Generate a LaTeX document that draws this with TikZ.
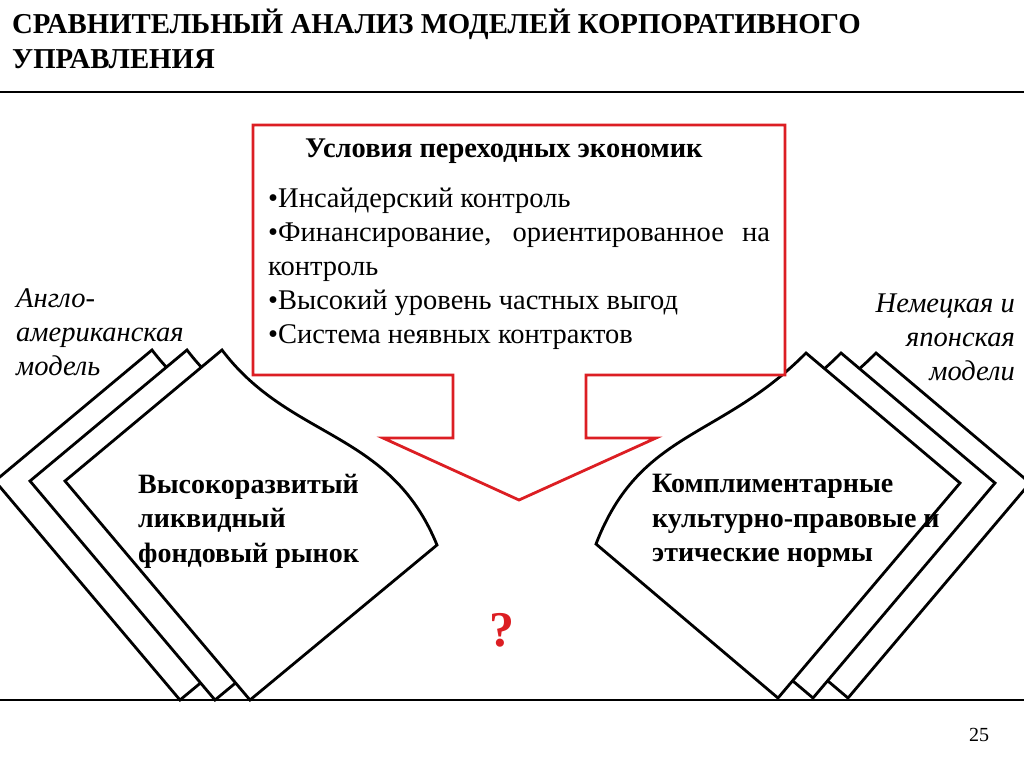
\documentclass[tikz,border=0pt]{standalone}
\usepackage{fontspec}
\setmainfont{Liberation Serif}
\definecolor{boxred}{RGB}{220,30,35}
\begin{document}
\begin{tikzpicture}[x=1pt, y=-1pt,
card/.style = {draw, line width = 2.8pt, fill = white, line join = miter},
lbl/.style = {font = \fontsize{28.5}{34}\selectfont\itshape, align = center, inner sep = 0pt},
cardtext/.style = {font = \fontsize{28}{34.5}\selectfont\bfseries, align = left, anchor = north west, inner sep = 0pt}]

\useasboundingbox (0,0) rectangle (1024,767);

% title and rules
\node[anchor = north west, inner sep = 0pt, align = left, font = \fontsize{28.8}{35}\selectfont\bfseries] (title) at (12,9) {СРАВНИТЕЛЬНЫЙ АНАЛИЗ МОДЕЛЕЙ КОРПОРАТИВНОГО\\УПРАВЛЕНИЯ};
\draw[line width = 1.2pt] (0,92) -- (1024,92);
\draw[line width = 1.2pt] (0,700) -- (1024,700);
\node[font = \fontsize{20}{24}\selectfont] (page) at (979,735) {25};

% left cards
\foreach \dx in {-70,-35,0} {
  \draw[card, xshift = \dx] (222,350) .. controls (290,440) and (390,430) .. (437,545)
    -- (250,700) -- (65,481) -- cycle;
}
% right cards
\foreach \dx in {70,35,0} {
  \draw[card, xshift = \dx] (806,353) -- (960,483) -- (778,698) -- (596,544)
    .. controls (640,430) and (720,440) .. (806,353) -- cycle;
}

% red arrow box
\draw[boxred, line width = 2.8pt, fill = white] (253,125) -- (785,125) -- (785,375) -- (586,375)
  -- (586,438) -- (656,438) -- (519,500) -- (383,438) -- (453,438) -- (453,375)
  -- (253,375) -- cycle;

\node[anchor = north west, inner sep = 0pt, font = \fontsize{28.5}{34}\selectfont\bfseries] (head) at (305,139) {Условия переходных экономик};
\node[anchor = north west, inner sep = 0pt, text width = 502pt, align = justify,
  font = \fontsize{28.5}{34}\selectfont] (list) at (268,188)
  {•Инсайдерский контроль\par
   •Финансирование, ориентированное на контроль\par
   •Высокий уровень частных выгод\par
   •Система неявных контрактов};

\node[cardtext] (market) at (138,474) {Высокоразвитый\\ликвидный\\фондовый рынок};
\node[cardtext] (norms) at (652,474) {Комплиментарные\\культурно-правовые и\\этические нормы};

\node[lbl, anchor = north west, align = left] (anglo) at (16,288) {Англо-\\американская\\модель};
\node[lbl, anchor = north east, align = right] (german) at (1015,294) {Немецкая и\\японская\\модели};

\node[text = boxred, font = \fontsize{50}{54}\selectfont\bfseries] (q) at (502,630) {?};
\end{tikzpicture}
\end{document}
